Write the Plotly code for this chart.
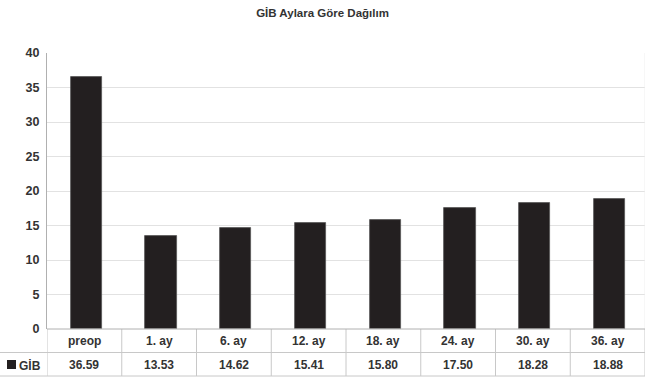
import plotly.graph_objects as go

# Monthly distribution of GİB
categories = ["preop", "1. ay", "6. ay", "12. ay", "18. ay", "24. ay", "30. ay", "36. ay"]
values = [36.59, 13.53, 14.62, 15.41, 15.80, 17.50, 18.28, 18.88]
series_name = "GİB"
y_ticks = [0, 5, 10, 15, 20, 25, 30, 35, 40]

W, H = 645, 381
M_L, M_R, M_T, M_B = 47, 0, 53, 52
plot_w = W - M_L - M_R
plot_h = H - M_T - M_B

FONT = "Liberation Sans, Arial, sans-serif"
TXT = "#333333"
LINE = "#c8c8c8"
BAR = "#231f20"


def py(px_below_axis):
    """Convert a pixel offset below the x axis into paper y."""
    return -px_below_axis / plot_h


def px(px_from_left_edge):
    """Convert a pixel x position on the page into paper x."""
    return (px_from_left_edge - M_L) / plot_w


fig = go.Figure(go.Bar(
    x=list(range(len(categories))),
    y=values,
    width=0.42,
    offset=-0.185,
    marker=dict(color=BAR, line=dict(color="#555555", width=0.8)),
    name=series_name,
    showlegend=False,
))

row1_bottom = py(23.5)   # divider between category row and value row
row2_bottom = py(47)     # bottom of the data table

shapes = []
# horizontal table lines spanning the full width
for yy in (row1_bottom, row2_bottom):
    shapes.append(dict(type="line", xref="paper", yref="paper",
                       x0=px(0), x1=1, y0=yy, y1=yy,
                       line=dict(color=LINE, width=1)))
# vertical cell boundaries
for i in range(len(categories) + 1):
    shapes.append(dict(type="line", xref="x", yref="paper",
                       x0=i - 0.5, x1=i - 0.5, y0=0, y1=row2_bottom,
                       line=dict(color=LINE, width=1)))
# legend key square for the series row
shapes.append(dict(type="rect", xref="paper", yref="paper",
                   x0=px(7), x1=px(16), y0=py(31), y1=py(40),
                   fillcolor=BAR, line=dict(width=0)))

cell_font = dict(family=FONT, size=12, color=TXT, weight="bold")
annotations = []
for i, (c, v) in enumerate(zip(categories, values)):
    annotations.append(dict(x=i, y=py(12), xref="x", yref="paper", text=c,
                            showarrow=False, yanchor="middle", font=cell_font))
    annotations.append(dict(x=i, y=py(36), xref="x", yref="paper", text=f"{v:.2f}",
                            showarrow=False, yanchor="middle", font=cell_font))
annotations.append(dict(x=px(17), y=py(36), xref="paper", yref="paper",
                        text=series_name, showarrow=False, xanchor="left",
                        yanchor="middle", font=cell_font))

fig.update_layout(
    width=W, height=H,
    margin=dict(l=M_L, r=M_R, t=M_T, b=M_B),
    paper_bgcolor="white", plot_bgcolor="white",
    title=dict(text="GİB Aylara Göre Dağılım", x=0.5, xanchor="center",
               y=1 - 13 / H, yanchor="middle",
               font=dict(family=FONT, size=11.5, color=TXT, weight="bold")),
    xaxis=dict(range=[-0.5, len(categories) - 0.5], showticklabels=False,
               showgrid=False, zeroline=False, showline=False, ticks=""),
    yaxis=dict(range=[0, 40], tickvals=y_ticks, showgrid=True, gridcolor="#e2e2e2",
               gridwidth=1, zeroline=False, showline=True, linecolor="#b0b0b0",
               mirror=False, ticks="", ticklabelstandoff=4,
               tickfont=dict(family=FONT, size=12.5, color=TXT, weight="bold")),
    shapes=shapes,
    annotations=annotations,
    bargap=0,
)
# right plot edge
fig.add_shape(type="line", xref="paper", yref="paper", x0=1, x1=1, y0=0, y1=1,
              line=dict(color="#eeeeee", width=1))
# bottom axis line
fig.add_shape(type="line", xref="paper", yref="paper", x0=0, x1=1, y0=0, y1=0,
              line=dict(color="#b0b0b0", width=1))

fig.write_html("out.html")
